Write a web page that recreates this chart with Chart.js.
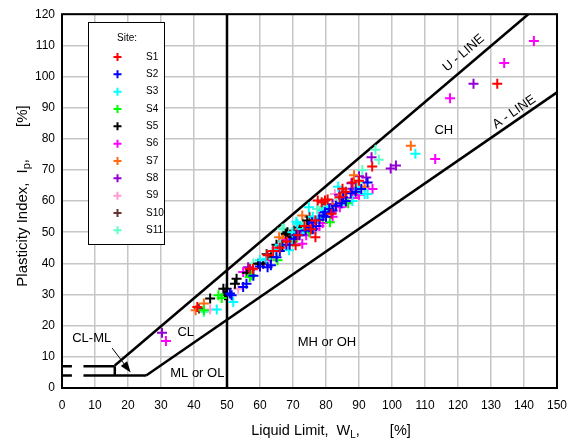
<!DOCTYPE html>
<html>
<head>
<meta charset="utf-8">
<script src="https://cdn.jsdelivr.net/npm/chart.js@4.4.0/dist/chart.umd.min.js"></script>
<style>
  html, body { margin: 0; padding: 0; background: #fff; }
  #wrap { width: 577px; height: 442px; }
</style>
</head>
<body>
<div id="wrap"><canvas id="chart" width="577" height="442"></canvas></div>
<script>
// Site samples: [liquid limit, plasticity index]
var siteNames = ['S1', 'S2', 'S3', 'S4', 'S5', 'S6', 'S7', 'S8', 'S9', 'S10', 'S11'];
var siteColors = ['#ff0000', '#0000ff', '#00ffff', '#00ff00', '#000000', '#ff00ff',
                  '#ff6a13', '#9400d3', '#ff9ccf', '#663333', '#5cffc8'];

var s1 = [[41, 26], [56.9, 38.3], [57.9, 38.3], [62.3, 42.6], [70.8, 45.8], [76.8, 48.4], [76.8, 53.8],
          [78.7, 59.6], [79.7, 60.2], [81.7, 55.9], [84.2, 61.2], [77.5, 60.2], [73.5, 52], [94, 71.1],
          [131.9, 97.7], [68, 47], [66, 45], [86, 63], [88, 66], [80.5, 60.5], [75.5, 51], [71.5, 49],
          [64, 44], [85, 64], [90, 66.5]];
var s2 = [[50.9, 30.3], [51.4, 29.8], [54.9, 32.4], [55.9, 33.5], [62.3, 38.8], [63.3, 39.4], [70.3, 47.9],
          [73.8, 50.6], [74.8, 51.6], [75.8, 53.2], [79.2, 55.4], [79.7, 56.4], [84.7, 59.3], [85.2, 61.2],
          [87.5, 62.5], [90.7, 63.9], [92.6, 66], [72, 49], [77, 52], [66, 44], [82, 57], [60, 39], [69, 46],
          [76, 51], [78, 54], [80, 55], [81, 57.5], [83, 58.5], [86, 60], [89, 63], [71, 49], [68, 46],
          [65, 42], [58, 36]];
var s3 = [[46.9, 25.2], [51.9, 27.6], [64.8, 44.2], [68.8, 44.2], [71.3, 52.7], [69.8, 50], [71, 53.4],
          [74.8, 58], [77.7, 54.3], [83.7, 64.6], [91.7, 62.3], [92.6, 62.3], [107.1, 75.2], [60, 41],
          [80, 58], [88, 60], [73, 51], [76, 55], [79, 57], [85, 60], [90, 64], [62, 41.5], [66, 46]];
var s4 = [[43, 25], [47.4, 29.8], [48.4, 28.9], [56.9, 35.6], [57.4, 36.2], [65.3, 41], [81.2, 53.2],
          [86.7, 59.3], [75, 50], [70, 47], [73, 51], [79, 55]];
var s5 = [[44.9, 28.7], [48.9, 31.9], [49.4, 29.8], [49.9, 31.9], [52.4, 33.5], [52.9, 35.1], [59.4, 39.9],
          [63.3, 42], [66.8, 45.8], [67.8, 49.5], [68.3, 50], [74.3, 53.8], [61, 40], [65, 46],
          [70, 48.5], [72, 51.5], [56, 37]];
var s6 = [[31.5, 15.1], [54.9, 37.2], [55.9, 37.2], [60.9, 39.9], [72.8, 46.3], [72.8, 50.6], [76.8, 51.1],
          [81.7, 56.4], [84.2, 58], [94.1, 63.9], [113.1, 73.5], [117.6, 93], [134, 104.3], [143, 111.4],
          [78, 52], [88, 61], [65, 45], [74, 49], [79, 53], [82, 55], [86, 59.5], [90, 62], [68, 47.5], [62, 41]];
var s7 = [[43, 27.1], [40.5, 25], [65.8, 48.4], [72.8, 55.4], [88.5, 68.3], [91.7, 64.6], [89.7, 62.3],
          [105.7, 77.8], [75, 50], [82, 58], [67, 48], [80, 57], [85, 62]];
var s8 = [[30.3, 17.7], [56.4, 38.8], [87.7, 65.7], [92.2, 67.6], [93.8, 74.1], [99.6, 70.5], [101.2, 71.4],
          [124.7, 97.7], [57, 38], [70, 48], [84, 62], [76, 53], [78, 55], [82, 59], [88, 64], [90, 68]];
var s9 = [[44.9, 25.2], [53.4, 31.9], [67.8, 46.8], [82.7, 62.3], [63, 41], [72, 50], [78, 54], [86, 61],
          [69, 47], [75, 52], [80, 56], [58, 38], [84, 60]];
var s10 = [[41.5, 25.5], [70.3, 50.6], [85.2, 62.8], [62, 43], [75, 55], [89, 64], [68, 49], [80, 59], [60, 40]];
var s11 = [[43, 24.4], [66.8, 51.1], [67.3, 51.1], [77.3, 57.5], [83.2, 60.2], [89.7, 66], [95, 76.5],
           [96, 73.3], [58, 40], [73, 53], [70, 50], [79, 58], [86, 63], [91, 70]];
var siteData = [s1, s2, s3, s4, s5, s6, s7, s8, s9, s10, s11];

// Chart boundary lines (end points)
var uLine = [[16, 7.2], [141.3, 120]];
var aLine = [[25.5, 4], [150, 94.9]];
var llFifty = [[50, 0], [50, 120]];
var pi7Left = [[0, 7], [3, 7]];
var pi7Right = [[6.5, 7], [16, 7]];
var pi4Left = [[0, 4], [3, 4]];
var pi4Right = [[6.5, 4], [25.5, 4]];
var llSixteen = [[16, 4], [16, 7]];
var boundaryLines = [uLine, aLine, llFifty, pi7Left, pi7Right, pi4Left, pi4Right, llSixteen];

// Zone labels in chart units
var zoneLabels = [
    { text: 'CL', x: 37.5, y: 17.9 },
    { text: 'ML or OL', x: 41, y: 4.6 },
    { text: 'CL-ML', x: 9, y: 15.9 },
    { text: 'MH or OH', x: 80.3, y: 14.7 },
    { text: 'CH', x: 115.7, y: 82.8 }
];
var lineLabels = [
    { text: 'U - LINE', x: 121.7, y: 107.5, slope: 0.9 },
    { text: 'A - LINE', x: 137, y: 88.6, slope: 0.73 }
];
var arrowFrom = [15.2, 12.8];
var arrowTo = [20.8, 5];

var FONT = "'Liberation Sans', Arial, sans-serif";

function toPts(list) {
    return list.map(function (p) { return { x: p[0], y: p[1] }; });
}

var datasets = [];
siteData.forEach(function (pts, i) {
    datasets.push({
        label: siteNames[i],
        data: toPts(pts),
        pointStyle: 'cross',
        pointRadius: 5,
        pointBorderWidth: 2,
        borderColor: siteColors[i],
        backgroundColor: siteColors[i],
        showLine: false
    });
});
boundaryLines.forEach(function (seg) {
    datasets.push({
        label: '',
        data: toPts(seg),
        showLine: true,
        borderColor: '#000',
        borderWidth: 2.5,
        pointRadius: 0,
        borderCapStyle: 'butt'
    });
});

// Draws frame, legend, labels and axis titles on top of the chart
var overlay = {
    id: 'overlay',
    afterDraw: function (chart) {
        var ctx = chart.ctx;
        var area = chart.chartArea;
        var xs = chart.scales.x, ys = chart.scales.y;
        ctx.save();

        // plot frame
        ctx.strokeStyle = '#000';
        ctx.lineWidth = 2;
        ctx.strokeRect(area.left, area.top, area.right - area.left, area.bottom - area.top);

        // zone labels
        ctx.fillStyle = '#000';
        ctx.font = '13px ' + FONT;
        ctx.textAlign = 'center';
        ctx.textBaseline = 'middle';
        zoneLabels.forEach(function (l) {
            ctx.fillText(l.text, xs.getPixelForValue(l.x), ys.getPixelForValue(l.y));
        });

        // rotated line labels
        lineLabels.forEach(function (l) {
            var px = xs.getPixelForValue(l.x), py = ys.getPixelForValue(l.y);
            var dx = xs.getPixelForValue(10) - xs.getPixelForValue(0);
            var dy = ys.getPixelForValue(0) - ys.getPixelForValue(10 * l.slope);
            ctx.save();
            ctx.translate(px, py);
            ctx.rotate(-Math.atan2(dy, dx));
            ctx.fillText(l.text, 0, 0);
            ctx.restore();
        });

        // CL-ML arrow
        var ax0 = xs.getPixelForValue(arrowFrom[0]), ay0 = ys.getPixelForValue(arrowFrom[1]);
        var ax1 = xs.getPixelForValue(arrowTo[0]), ay1 = ys.getPixelForValue(arrowTo[1]);
        var ang = Math.atan2(ay1 - ay0, ax1 - ax0);
        ctx.lineWidth = 1;
        ctx.beginPath();
        ctx.moveTo(ax0, ay0);
        ctx.lineTo(ax1 - 8 * Math.cos(ang), ay1 - 8 * Math.sin(ang));
        ctx.stroke();
        ctx.beginPath();
        ctx.moveTo(ax1, ay1);
        ctx.lineTo(ax1 - 11 * Math.cos(ang) + 4 * Math.sin(ang), ay1 - 11 * Math.sin(ang) - 4 * Math.cos(ang));
        ctx.lineTo(ax1 - 11 * Math.cos(ang) - 4 * Math.sin(ang), ay1 - 11 * Math.sin(ang) + 4 * Math.cos(ang));
        ctx.closePath();
        ctx.fill();

        // legend box
        ctx.fillStyle = '#fff';
        ctx.fillRect(88.5, 22.5, 76, 222);
        ctx.strokeStyle = '#000';
        ctx.lineWidth = 1;
        ctx.strokeRect(88.5, 22.5, 76, 222);
        ctx.fillStyle = '#000';
        ctx.font = '10px ' + FONT;
        ctx.textAlign = 'center';
        ctx.fillText('Site:', 127, 38);
        ctx.textAlign = 'left';
        siteNames.forEach(function (name, i) {
            var y = 57 + i * 17.33;
            ctx.strokeStyle = siteColors[i];
            ctx.lineWidth = 2;
            ctx.beginPath();
            ctx.moveTo(113.5, y); ctx.lineTo(121.5, y);
            ctx.moveTo(117.5, y - 4); ctx.lineTo(117.5, y + 4);
            ctx.stroke();
            ctx.fillStyle = '#000';
            ctx.fillText(name, 146, y);
        });

        // axis titles with subscripts; gap = extra space before a part
        function subTitle(parts, cx, cy, rot, size) {
            ctx.save();
            ctx.translate(cx, cy);
            ctx.rotate(rot);
            var big = size + 'px ' + FONT, small = Math.round(size * 0.72) + 'px ' + FONT;
            var total = 0;
            parts.forEach(function (p) {
                ctx.font = p.sub ? small : big;
                total += ctx.measureText(p.t).width + (p.gap || 0);
            });
            var x = -total / 2;
            ctx.textAlign = 'left';
            ctx.textBaseline = 'alphabetic';
            ctx.fillStyle = '#000';
            parts.forEach(function (p) {
                ctx.font = p.sub ? small : big;
                x += p.gap || 0;
                ctx.fillText(p.t, x, p.sub ? 8 : 5);
                x += ctx.measureText(p.t).width;
            });
            ctx.restore();
        }
        subTitle([{ t: 'Liquid Limit,' }, { t: 'W', gap: 8 }, { t: 'L', sub: true }, { t: ',' },
                  { t: '[%]', gap: 30 }],
                 331, 430, 0, 14.5);
        subTitle([{ t: 'Plasticity Index,' }, { t: 'I', gap: 9 }, { t: 'p', sub: true }, { t: ',' },
                  { t: '[%]', gap: 32 }],
                 22, 196, -Math.PI / 2, 15);

        ctx.restore();
    }
};

var chart = new Chart(document.getElementById('chart').getContext('2d'), {
    type: 'scatter',
    data: { datasets: datasets },
    plugins: [overlay],
    options: {
        responsive: false,
        animation: false,
        layout: { padding: { top: 13, right: 11, left: 0, bottom: 0 } },
        plugins: { legend: { display: false }, tooltip: { enabled: false } },
        scales: {
            x: {
                type: 'linear',
                min: 0, max: 150,
                afterFit: function (s) { s.height = 54; },
                ticks: { stepSize: 10, color: '#000', padding: 10, font: { family: FONT, size: 12 } },
                grid: { color: '#c6c6c6', lineWidth: 1.5, drawTicks: false },
                border: { display: false }
            },
            y: {
                type: 'linear',
                min: 0, max: 120,
                afterFit: function (s) { s.width = 62; },
                ticks: { stepSize: 10, color: '#000', padding: 7, font: { family: FONT, size: 12 } },
                grid: { color: '#c6c6c6', lineWidth: 1.5, drawTicks: false },
                border: { display: false }
            }
        }
    }
});
</script>
</body>
</html>
